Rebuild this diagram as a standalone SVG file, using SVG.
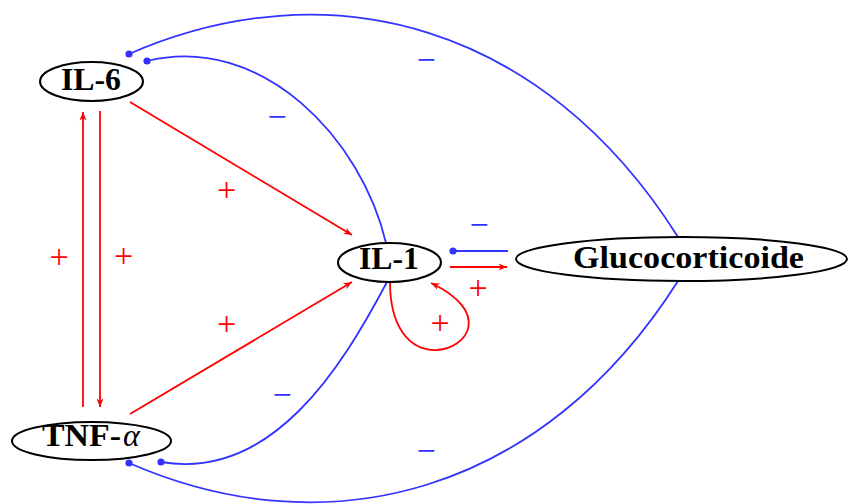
<svg xmlns="http://www.w3.org/2000/svg" width="849" height="504" viewBox="0 0 849 504">
<style>
.node ellipse{fill:#fff;stroke:#000;stroke-width:2}
.lbl{font-family:"Liberation Serif",serif;font-weight:bold;font-size:32px;fill:#000}
.alpha{font-family:"Liberation Serif",serif;font-style:italic;font-size:32px;fill:#000}
.pos{stroke:#ff0000;stroke-width:1.8;fill:none}
.neg{stroke:#3333ff;stroke-width:1.8;fill:none}
.sp{font-family:"Liberation Serif",serif;font-size:34px;fill:#ff0000;text-anchor:middle}
.sn{font-family:"Liberation Serif",serif;font-size:34px;fill:#3333ff;text-anchor:middle}
</style>
<defs>
<marker id="arr" viewBox="-9 -4 10 8" refX="0" refY="0" markerWidth="10" markerHeight="8" markerUnits="userSpaceOnUse" orient="auto">
<path d="M0,0 L-8.5,-3.5 L-6,0 L-8.5,3.5 Z" fill="#ff0000"/>
</marker>
<marker id="dot" viewBox="-4 -4 8 8" refX="0" refY="0" markerWidth="8" markerHeight="8" markerUnits="userSpaceOnUse">
<circle cx="0" cy="0" r="3.6" fill="#3333ff"/>
</marker>
</defs>
<g id="connectors">
<path class="neg" marker-start="url(#dot)" d="M129,54 C328,-33 543,23 678,237"/>
<path class="neg" marker-start="url(#dot)" d="M147,61 C263,33 362,140 386,243"/>
<path class="neg" marker-start="url(#dot)" d="M161,462 C272,481 342,367 387,282"/>
<path class="neg" marker-start="url(#dot)" d="M129,463 C328,550 543,494 678,281"/>
<path class="neg" marker-start="url(#dot)" d="M453,251 L508,251"/>
<path class="pos" marker-end="url(#arr)" d="M130,102 L352,235"/>
<path class="pos" marker-end="url(#arr)" d="M130,414 L352,282"/>
<path class="pos" marker-end="url(#arr)" d="M83,407 L83,112"/>
<path class="pos" marker-end="url(#arr)" d="M100,111 L100,407"/>
<path class="pos" marker-end="url(#arr)" d="M450,267 L507,267"/>
<path class="pos" marker-end="url(#arr)" d="M390,282 C390,325 408,351 437,350 C468,348 492,312 431,283"/>
<text class="sn" x="426" y="71">−</text>
<text class="sn" x="277" y="128">−</text>
<text class="sp" x="226.5" y="200.5">+</text>
<text class="sp" x="226.5" y="334.5">+</text>
<text class="sn" x="282" y="406">−</text>
<text class="sn" x="426" y="462">−</text>
<text class="sp" x="440" y="333.5">+</text>
<text class="sp" x="478" y="298.5">+</text>
<text class="sn" x="479" y="236">−</text>
<text class="sp" x="59" y="268">+</text>
<text class="sp" x="123.5" y="267">+</text>
</g>
<g id="il6" class="node">
<ellipse cx="91.5" cy="81.5" rx="51.5" ry="19.5"/>
<text class="lbl" x="61" y="90" textLength="60" lengthAdjust="spacingAndGlyphs">IL-6</text>
</g>
<g id="il1" class="node">
<ellipse cx="389.5" cy="262.5" rx="51.5" ry="19.5"/>
<text class="lbl" x="359" y="269" textLength="60" lengthAdjust="spacingAndGlyphs">IL-1</text>
</g>
<g id="tnf" class="node">
<ellipse cx="91.5" cy="441" rx="79.5" ry="19"/>
<text class="lbl" x="42" y="446" textLength="79" lengthAdjust="spacingAndGlyphs">TNF-</text>
<text class="alpha" x="123" y="446">α</text>
</g>
<g id="gluco" class="node">
<ellipse cx="681.5" cy="259" rx="165.5" ry="22"/>
<text class="lbl" x="573" y="268" textLength="231" lengthAdjust="spacingAndGlyphs">Glucocorticoide</text>
</g>
</svg>
